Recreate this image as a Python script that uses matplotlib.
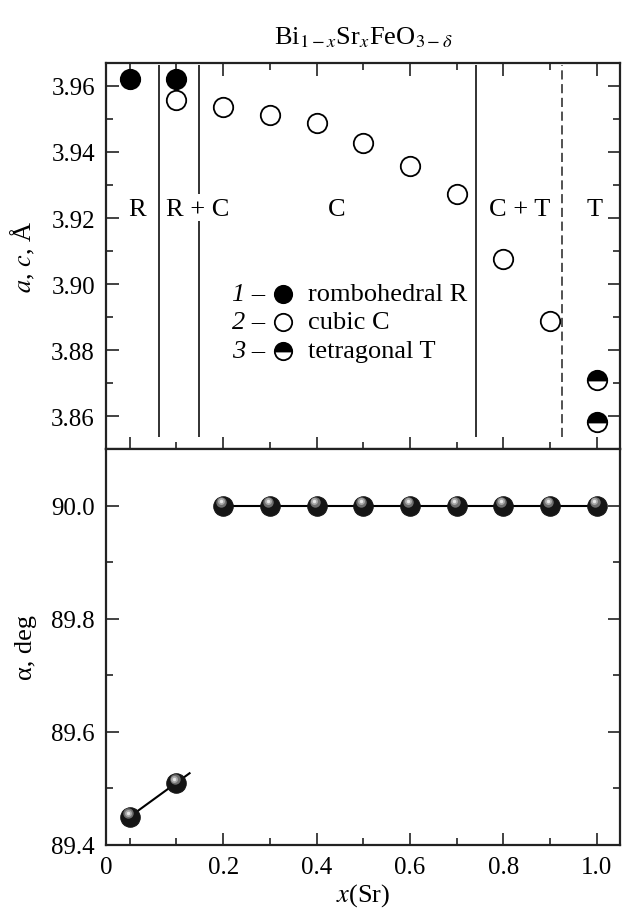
import numpy as np
import matplotlib
matplotlib.use('Agg')
import matplotlib.pyplot as plt
from matplotlib.transforms import offset_copy
from matplotlib.ticker import MultipleLocator

plt.rcParams['font.family'] = ['Liberation Serif', 'DejaVu Serif']
plt.rcParams['mathtext.fontset'] = 'stix'
plt.rcParams['font.size'] = 18

# lattice parameters a, c (Angstrom)
x_rhomb = [0.0, 0.1]
a_rhomb = [3.9621, 3.9621]
x_cubic = [0.1, 0.2, 0.3, 0.4, 0.5, 0.6, 0.7, 0.8, 0.9]
a_cubic = [3.9558, 3.9535, 3.9513, 3.9488, 3.9426, 3.9358, 3.9273, 3.9076, 3.8888]
x_tetra = [1.0, 1.0]
a_tetra = [3.8709, 3.8583]

# rhombohedral angle alpha (deg)
x_alpha_r = [0.0, 0.1]
alpha_r = [89.45, 89.51]
x_alpha_c = [0.2, 0.3, 0.4, 0.5, 0.6, 0.7, 0.8, 0.9, 1.0]
alpha_c = [90.0, 90.0, 90.0, 90.0, 90.0, 90.0, 90.0, 90.0, 90.0]

# phase boundaries and region labels
bounds = [0.062, 0.148, 0.741]
bound_dashed = 0.926
regions = ['R', 'R + C', 'C', 'C + T', 'T']
region_x = [0.015, 0.146, 0.443, 0.836, 0.996]

legend_labels = ['rombohedral R', 'cubic C', 'tetragonal T']

fig = plt.figure(figsize=(6.25, 9.12), dpi=100)
ax1 = fig.add_axes([0.1696, 0.5066, 0.8224, 0.4232])
ax2 = fig.add_axes([0.1696, 0.0724, 0.8224, 0.4342])

lc = '#222222'
for ax in (ax1, ax2):
    for s in ax.spines.values():
        s.set_linewidth(1.6)
        s.set_color(lc)
    ax.set_xlim(-0.051, 1.05)
    ax.xaxis.set_major_locator(MultipleLocator(0.2))
    ax.xaxis.set_minor_locator(MultipleLocator(0.1))
    ax.tick_params(which='both', direction='in', color=lc, width=1.2, pad=8,
                   labelsize=18)
    ax.tick_params(which='major', length=9)
    ax.tick_params(which='minor', length=5)

# ---- top panel ----
ax1.set_ylim(3.8501, 3.9669)
ax1.yaxis.set_major_locator(MultipleLocator(0.02))
ax1.yaxis.set_minor_locator(MultipleLocator(0.01))
ax1.yaxis.set_major_formatter(plt.FormatStrFormatter('%.2f'))
ax1.tick_params(which='both', top=True, right=True, labelbottom=False)

ms = 14
ax1.plot(x_rhomb, a_rhomb, 'o', ms=ms, mfc='black', mec='black', mew=1.3)
ax1.plot(x_cubic, a_cubic, 'o', ms=ms, mfc='white', mec='black', mew=1.3)
ax1.plot(x_tetra, a_tetra, 'o', ms=ms, fillstyle='top', mfc='black',
         mfcalt='white', mec='black', mew=1.3)

ytop, ybot = 3.9663, 3.8537
ax1.vlines(bounds[0], ybot, ytop, color=lc, lw=1.3)
ax1.vlines(bounds[1], ybot, 3.9190, color=lc, lw=1.3)
ax1.vlines(bounds[1], 3.9272, ytop, color=lc, lw=1.3)
ax1.vlines(bounds[2], ybot, ytop, color=lc, lw=1.3)
ax1.vlines(bound_dashed, ybot, ytop, color=lc, lw=1.1, linestyles=(0, (6, 3)))

for lab, xr in zip(regions, region_x):
    ax1.text(xr, 3.9226, lab, ha='center', va='center', fontsize=19)

leg_y = [3.8969, 3.8884, 3.8796]
leg_style = [dict(mfc='black'), dict(mfc='white'),
             dict(fillstyle='top', mfc='black', mfcalt='white')]
for i, (ly, lab, st) in enumerate(zip(leg_y, legend_labels, leg_style)):
    ax1.text(0.219, ly, f'{i + 1} –', ha='left', va='center', fontsize=19,
             style='italic')
    ax1.plot([0.328], [ly], 'o', ms=12.5, mec='black', mew=1.3, **st)
    ax1.text(0.381, ly, lab, ha='left', va='center', fontsize=19)

ax1.set_ylabel('$a$, $c$, Å', fontsize=19, labelpad=10)
ax1.set_title(r'Bi$_{1-x}$Sr$_x$FeO$_{3-\delta}$', fontsize=19, pad=14)

# ---- bottom panel ----
ax2.set_ylim(89.4, 90.1)
ax2.yaxis.set_major_locator(MultipleLocator(0.2))
ax2.yaxis.set_minor_locator(MultipleLocator(0.1))
ax2.yaxis.set_major_formatter(plt.FormatStrFormatter('%.1f'))
ax2.tick_params(which='both', right=True, top=False)
ax2.set_xticks([-0.051, 0.2, 0.4, 0.6, 0.8, 1.0])
ax2.set_xticklabels(['0', '0.2', '0.4', '0.6', '0.8', '1.0'])

fit = np.polyfit(x_alpha_r, alpha_r, 1)
xf = np.array([x_alpha_r[0], 0.128])
ax2.plot(xf, np.polyval(fit, xf), '-', color='black', lw=1.5, zorder=2)
ax2.plot(x_alpha_c, alpha_c, '-', color='black', lw=1.5, zorder=2)

# shaded spheres: dark ball with a grey highlight
hl = offset_copy(ax2.transData, fig=fig, x=-1.3, y=2.6, units='points')
hl2 = offset_copy(ax2.transData, fig=fig, x=-1.6, y=3.0, units='points')
for xs, ys in ((x_alpha_r, alpha_r), (x_alpha_c, alpha_c)):
    ax2.plot(xs, ys, 'o', ms=14, mfc='#151515', mec='#151515', mew=0.8, zorder=3)
    ax2.plot(xs, ys, 'o', ms=7.5, mfc='#6e6e6e', mec='none', transform=hl, zorder=4)
    ax2.plot(xs, ys, 'o', ms=5, mfc='#a8a8a8', mec='none', transform=hl2, zorder=5)
    ax2.plot(xs, ys, 'o', ms=2.5, mfc='#e6e6e6', mec='none', transform=hl2, zorder=6)

ax2.set_ylabel('α, deg', fontsize=19, labelpad=10)
ax2.set_xlabel('$x$(Sr)', fontsize=19, labelpad=2)

fig.savefig('out.png', dpi=100)
